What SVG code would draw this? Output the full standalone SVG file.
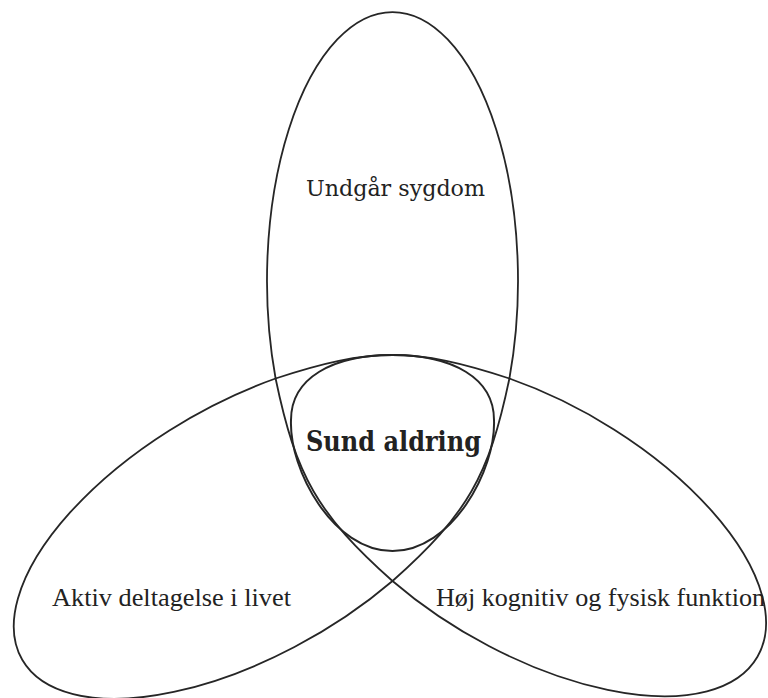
<svg xmlns="http://www.w3.org/2000/svg" xmlns:xlink="http://www.w3.org/1999/xlink" width="768" height="698" viewBox="0 0 768 698">
  <style>
    .line { fill: none; stroke: #262626; stroke-width: 1.8; stroke-linecap: round; }
    .core { fill: none; stroke: #262626; stroke-width: 2; }
    .lbl { font-family: "DejaVu Serif", "Liberation Serif", serif; font-size: 22px; fill: #222; }
    .lbl2 { font-family: "Liberation Serif", "DejaVu Serif", serif; font-size: 25.5px; fill: #222; }
    .main { font-family: "DejaVu Serif", "Liberation Serif", serif; font-size: 27px; font-weight: bold; fill: #222; }
  </style>
  <defs>
    <path id="innerArc" d="M 509.4 378.5 C 414.4 347.15 370.6 347.15 275.6 378.5"/>
  </defs>
  <rect width="768" height="698" fill="#ffffff"/>

  <g id="trefoil">
    <path id="lobe-top" class="line" d="M 509.4 378.5 A 125.5 268.7 0 1 0 275.6 378.5"/>
    <path id="lobe-left" class="line" d="M 509.4 378.5 A 125.5 264 0 1 0 275.6 378.5" transform="rotate(240 392.5 446)"/>
    <path id="lobe-right" class="line" d="M 509.4 378.5 A 125.5 259.5 0 1 0 275.6 378.5" transform="rotate(120 392.5 446)"/>
    <use xlink:href="#innerArc" href="#innerArc" class="line"/>
    <use xlink:href="#innerArc" href="#innerArc" class="line" transform="rotate(120 392.5 446)"/>
    <use xlink:href="#innerArc" href="#innerArc" class="line" transform="rotate(240 392.5 446)"/>
  </g>

  <g id="sund-aldring">
    <path class="core" d="M 392.5 355 C 452.5 355 494 378 494 420 C 496 470 452 551 392.5 551 C 333 551 289 470 291 420 C 291 378 332.5 355 392.5 355 Z"/>
    <text class="main" x="306" y="451" textLength="175" lengthAdjust="spacingAndGlyphs">Sund aldring</text>
  </g>

  <g id="undgaar-sygdom">
    <text class="lbl" x="306" y="196" textLength="179" lengthAdjust="spacingAndGlyphs">Undgår sygdom</text>
  </g>

  <g id="aktiv-deltagelse">
    <text class="lbl2" x="52" y="606" textLength="239" lengthAdjust="spacingAndGlyphs">Aktiv deltagelse i livet</text>
  </g>

  <g id="hoej-funktion">
    <text class="lbl2" x="436" y="606" textLength="329" lengthAdjust="spacingAndGlyphs">Høj kognitiv og fysisk funktion</text>
  </g>
</svg>
